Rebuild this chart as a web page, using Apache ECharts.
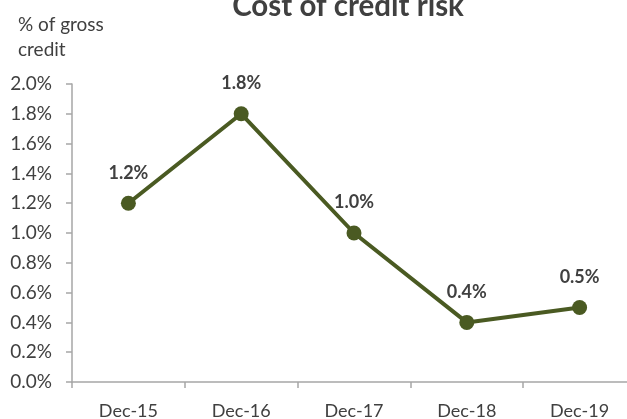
<!DOCTYPE html>
<html>
<head>
<meta charset="utf-8">
<script src="https://cdn.jsdelivr.net/npm/echarts@6/dist/echarts.min.js"></script>
<style>
  html, body { margin: 0; padding: 0; background: #fff; }
  #chart { width: 627px; height: 419px; }
</style>
</head>
<body>
<div id="chart"></div>
<script>
// Cost of credit risk, % of gross credit, year-end values
const periods = ['Dec-15', 'Dec-16', 'Dec-17', 'Dec-18', 'Dec-19'];
const costOfRisk = [1.2, 1.8, 1.0, 0.4, 0.5];
const chartTitle = 'Cost of credit risk';
const unitLabel = '% of gross\ncredit';

const FONT = 'Lato, "Open Sans", sans-serif';
const TEXT = '#404040';
const LINE = '#4a5a22';
const AXIS = '#a6a6a6';

const chart = echarts.init(document.getElementById('chart'));
chart.setOption({
  animation: false,
  title: [
    {
      text: chartTitle,
      left: 343,
      textAlign: 'center',
      top: -14,
      textStyle: { fontFamily: FONT, fontSize: 29.5, fontWeight: 'bold', color: TEXT }
    },
    {
      text: unitLabel,
      left: 13,
      top: 7,
      textStyle: { fontFamily: FONT, fontSize: 19, fontWeight: 'normal', color: TEXT, lineHeight: 25 }
    }
  ],
  // plot area runs slightly past the right edge of the canvas
  grid: { left: 72, width: 564, top: 84, bottom: 37, containLabel: false, outerBoundsMode: 'none' },
  xAxis: {
    type: 'category',
    data: periods,
    boundaryGap: true,
    axisLine: { lineStyle: { color: AXIS, width: 1.5 } },
    axisTick: { show: true, length: 6, lineStyle: { color: AXIS, width: 1.5 } },
    axisLabel: { fontFamily: FONT, fontSize: 18, color: TEXT, margin: 20 },
    splitLine: { show: false }
  },
  yAxis: {
    type: 'value',
    min: 0,
    max: 2.0,
    interval: 0.2,
    axisLine: { show: true, lineStyle: { color: AXIS, width: 1.5 } },
    axisTick: { show: true, length: 6, lineStyle: { color: AXIS, width: 1.5 } },
    axisLabel: {
      fontFamily: FONT, fontSize: 19, color: TEXT, margin: 20,
      formatter: v => v.toFixed(1) + '%'
    },
    splitLine: { show: false }
  },
  series: [{
    type: 'line',
    data: costOfRisk,
    symbol: 'circle',
    symbolSize: 15,
    itemStyle: { color: LINE },
    lineStyle: { color: LINE, width: 4 },
    label: {
      show: true,
      position: 'top',
      distance: 14,
      fontFamily: FONT,
      fontSize: 18,
      fontWeight: 'bold',
      color: TEXT,
      formatter: p => p.value.toFixed(1) + '%'
    }
  }]
});
</script>
</body>
</html>
